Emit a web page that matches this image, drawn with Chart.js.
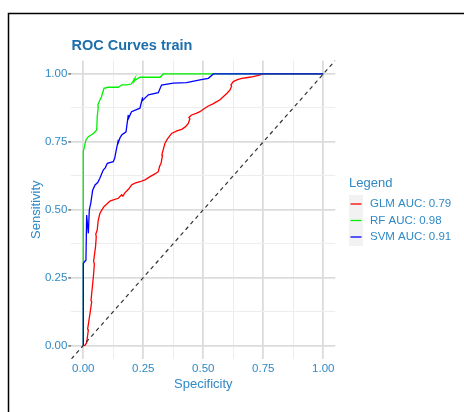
<!DOCTYPE html>
<html>
<head>
<meta charset="utf-8">
<script src="https://cdn.jsdelivr.net/npm/chart.js@4.4.1/dist/chart.umd.min.js"></script>
<style>
  body { margin: 0; background: #fff; }
  canvas { display: block; }
</style>
</head>
<body>
<canvas id="roc" width="464" height="412"></canvas>
<script>
const titleText = 'ROC Curves train';
const xTitle = 'Specificity';
const yTitle = 'Sensitivity';
const legendTitle = 'Legend';
const seriesLabels = ['GLM AUC: 0.79', 'RF AUC: 0.98', 'SVM AUC: 0.91'];
const seriesColors = ['#ff0000', '#00f000', '#0000ff'];
const tickValues = [0, 0.25, 0.5, 0.75, 1];
const minorValues = [0.125, 0.375, 0.625, 0.875];

// GLM
const glmX = [0, 0.007, 0.014, 0.021, 0.018, 0.028, 0.035, 0.032, 0.042, 0.046, 0.043, 0.051, 0.054, 0.052, 0.058, 0.062, 0.069, 0.078, 0.086, 0.097, 0.111, 0.125, 0.146, 0.16, 0.165, 0.174, 0.188, 0.201, 0.215, 0.236, 0.257, 0.278, 0.295, 0.3125, 0.318, 0.324, 0.33, 0.328, 0.34, 0.35, 0.368, 0.39, 0.41, 0.425, 0.4375, 0.444, 0.44, 0.451, 0.47, 0.486, 0.5, 0.521, 0.54, 0.556, 0.57, 0.583, 0.6, 0.611, 0.618, 0.615, 0.625, 0.64, 0.66, 0.685, 0.708, 0.73, 0.75, 1];
const glmY = [0, 0, 0.01, 0.057, 0.06, 0.118, 0.161, 0.165, 0.253, 0.3, 0.31, 0.364, 0.4, 0.41, 0.425, 0.46, 0.486, 0.5, 0.511, 0.52, 0.532, 0.536, 0.542, 0.555, 0.55, 0.563, 0.575, 0.591, 0.598, 0.603, 0.61, 0.622, 0.63, 0.64, 0.66, 0.671, 0.7, 0.705, 0.744, 0.76, 0.781, 0.79, 0.796, 0.805, 0.818, 0.835, 0.84, 0.849, 0.855, 0.861, 0.87, 0.882, 0.89, 0.898, 0.905, 0.916, 0.93, 0.941, 0.955, 0.96, 0.972, 0.978, 0.984, 0.987, 0.99, 0.995, 1, 1];

// RF
const rfX = [0, 0, 0.004, 0.011, 0.021, 0.032, 0.042, 0.056, 0.058, 0.0625, 0.06, 0.069, 0.076, 0.086, 0.104, 0.125, 0.146, 0.16, 0.18, 0.2, 0.215, 0.212, 0.236, 0.28, 0.32, 0.333, 0.4, 1];
const rfY = [0, 0.714, 0.73, 0.757, 0.769, 0.775, 0.781, 0.794, 0.843, 0.88, 0.885, 0.904, 0.916, 0.947, 0.951, 0.951, 0.951, 0.96, 0.96, 0.963, 0.984, 0.975, 0.988, 0.988, 0.988, 1, 1, 1];

// SVM
const svmX = [0, 0, 0.007, 0.011, 0.014, 0.018, 0.021, 0.025, 0.031, 0.039, 0.049, 0.06, 0.069, 0.083, 0.092, 0.1, 0.125, 0.131, 0.136, 0.146, 0.143, 0.153, 0.16, 0.178, 0.183, 0.1875, 0.185, 0.201, 0.236, 0.247, 0.244, 0.271, 0.3125, 0.326, 0.375, 0.43, 0.486, 0.521, 0.542, 1];
const svmY = [0, 0.302, 0.31, 0.314, 0.48, 0.44, 0.413, 0.499, 0.523, 0.572, 0.591, 0.6, 0.616, 0.646, 0.655, 0.671, 0.677, 0.69, 0.714, 0.757, 0.74, 0.765, 0.775, 0.787, 0.82, 0.849, 0.83, 0.861, 0.874, 0.914, 0.9, 0.923, 0.931, 0.959, 0.966, 0.968, 0.978, 0.984, 1, 1];

const diagX = [-0.05, 1.05];
const diagY = [-0.05, 1.05];

const font = '"Liberation Sans", Arial, sans-serif';
const tickBlue = '#2f89c5';
const titleBlue = '#1b6fab';

function pts(xs, ys) {
    return xs.map((x, i) => ({ x: x, y: ys[i] }));
}

const allTicks = tickValues.concat(minorValues).sort((a, b) => a - b);
const isMajor = v => tickValues.some(t => Math.abs(t - v) < 1e-9);

const decor = {
    id: 'decor',
    beforeDraw(chart) {
        const c = chart.ctx;
        c.save();
        c.fillStyle = '#fff';
        c.fillRect(0, 0, chart.width, chart.height);
        c.strokeStyle = '#000';
        c.lineWidth = 1.5;
        c.beginPath();
        c.moveTo(8.5, chart.height);
        c.lineTo(8.5, 13.5);
        c.lineTo(chart.width, 13.5);
        c.stroke();
        c.restore();
    },
    afterDraw(chart) {
        const c = chart.ctx;
        const a = chart.chartArea;
        c.save();
        c.textBaseline = 'middle';
        // title
        c.fillStyle = titleBlue;
        c.font = 'bold 14.5px ' + font;
        c.textAlign = 'left';
        c.fillText(titleText, 71.5, 46);
        // axis titles
        c.fillStyle = tickBlue;
        c.font = '13px ' + font;
        c.textAlign = 'center';
        c.fillText(xTitle, (a.left + a.right) / 2, 384);
        c.save();
        c.translate(36, (a.top + a.bottom) / 2);
        c.rotate(-Math.PI / 2);
        c.fillText(yTitle, 0, 0);
        c.restore();
        // legend
        c.textAlign = 'left';
        c.fillText(legendTitle, 349, 183);
        c.fillStyle = '#f2f2f2';
        c.fillRect(349, 195, 14, 51);
        c.font = '11.5px ' + font;
        seriesLabels.forEach((lab, i) => {
            const y = 204 + i * 16.5;
            c.strokeStyle = seriesColors[i];
            c.lineWidth = 1.3;
            c.beginPath();
            c.moveTo(350.5, y);
            c.lineTo(361.5, y);
            c.stroke();
            c.fillStyle = tickBlue;
            c.fillText(lab, 370, y);
        });
        c.restore();
    }
};

new Chart(document.getElementById('roc'), {
    type: 'scatter',
    data: {
        datasets: [
            { label: seriesLabels[2], data: pts(svmX, svmY), borderColor: seriesColors[2], order: 1 },
            { label: seriesLabels[1], data: pts(rfX, rfY), borderColor: seriesColors[1], order: 2 },
            { label: seriesLabels[0], data: pts(glmX, glmY), borderColor: seriesColors[0], order: 3 },
            { label: 'diag', data: pts(diagX, diagY), borderColor: '#333', borderDash: [4, 3.5], borderWidth: 1.2, order: 0 }
        ].map(d => Object.assign({ showLine: true, pointRadius: 0, borderWidth: 1.3, fill: false, tension: 0 }, d))
    },
    options: {
        responsive: false,
        animation: false,
        layout: { padding: { left: 0, top: 60.4, right: 128.7, bottom: 0 } },
        plugins: {
            legend: { display: false },
            tooltip: { enabled: false },
            title: { display: false }
        },
        scales: {
            x: {
                type: 'linear',
                min: -0.05,
                max: 1.05,
                afterBuildTicks: s => { s.ticks = allTicks.map(v => ({ value: v })); },
                afterFit: s => { s.height = 53; },
                border: { display: false },
                grid: {
                    color: ctx => isMajor(ctx.tick.value) ? '#dcdcdc' : '#ededed',
                    lineWidth: ctx => isMajor(ctx.tick.value) ? 1.8 : 1,
                    drawTicks: false
                },
                ticks: {
                    padding: 3,
                    color: tickBlue,
                    font: { family: font, size: 11.5 },
                    maxRotation: 0,
                    autoSkip: false,
                    callback: v => isMajor(v) ? v.toFixed(2) : ''
                }
            },
            y: {
                type: 'linear',
                min: -0.05,
                max: 1.05,
                afterBuildTicks: s => { s.ticks = allTicks.map(v => ({ value: v })); },
                afterFit: s => { s.width = 71.3; },
                border: { display: false },
                grid: {
                    color: ctx => isMajor(ctx.tick.value) ? '#dcdcdc' : '#ededed',
                    lineWidth: ctx => isMajor(ctx.tick.value) ? 1.8 : 1,
                    tickColor: ctx => isMajor(ctx.tick.value) ? '#888' : 'rgba(0,0,0,0)',
                    tickLength: 3
                },
                ticks: {
                    padding: 1,
                    color: tickBlue,
                    font: { family: font, size: 11.5 },
                    autoSkip: false,
                    callback: v => isMajor(v) ? v.toFixed(2) : ''
                }
            }
        }
    },
    plugins: [decor]
});
</script>
</body>
</html>
